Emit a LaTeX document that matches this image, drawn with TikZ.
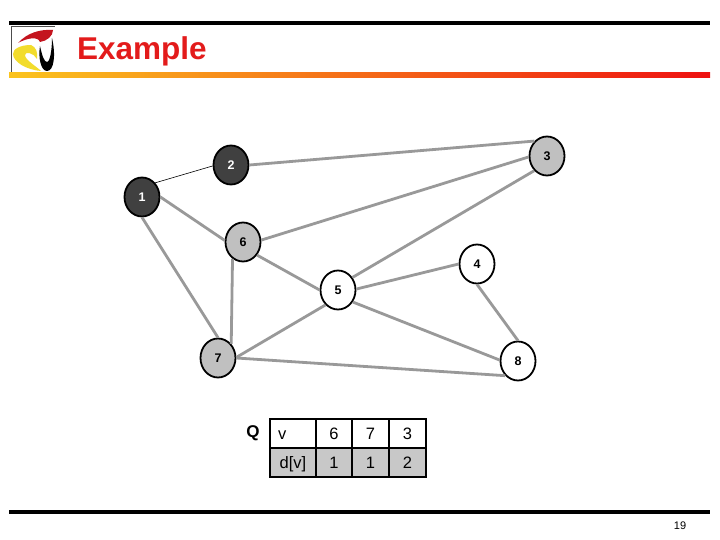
\documentclass[tikz,border=0pt]{standalone}
\usepackage{fontspec}
\setmainfont{Liberation Sans}
\definecolor{edgegray}{HTML}{999999}
\definecolor{dark}{HTML}{404040}
\definecolor{lite}{HTML}{C0C0C0}
\definecolor{cellgray}{HTML}{C8C8C8}
\definecolor{titlered}{HTML}{E31B1B}
\definecolor{barleft}{HTML}{FBC41E}
\definecolor{barright}{HTML}{EE1111}
\definecolor{logored}{HTML}{C4141E}
\definecolor{logoyellow}{HTML}{F2DC2C}
\usetikzlibrary{shapes.geometric}
\tikzset{
  vert/.style={ellipse,draw=black,line width=1.8pt,minimum width=35pt,minimum height=39pt,inner sep=0pt,font=\bfseries\fontsize{12.5}{14}\selectfont},
  vwhite/.style={vert,fill=white,text=black},
  vlite/.style={vert,fill=lite,text=black},
  vdark/.style={vert,fill=dark,text=white},
  edge/.style={draw=edgegray,line width=2.8pt},
  thinedge/.style={draw=black,line width=0.6pt},
  cell/.style={draw=black,line width=1.6pt,inner sep=0pt,minimum height=29pt,text height=12pt,text depth=0pt,font=\fontsize{16.5}{18}\selectfont,text=black},
  bar/.style={fill=black,draw=none}
}
\begin{document}
\begin{tikzpicture}[x=1pt,y=-1pt]
\useasboundingbox (0,0) rectangle (720,540);
\fill[white] (0,0) rectangle (720,540);
% logo
\draw[black!70,line width=0.5pt] (11.7,74) -- (11.7,26) -- (55,26);
\fill[logoyellow] (31,45) .. controls (20,45) and (13,49) .. (13,54) .. controls (13,62) and (27,70) .. (41,71) .. controls (36,66) and (25,60) .. (25,55) .. controls (25,51) and (34,53) .. (37,59) .. controls (38,52) and (36,47) .. (31,45) -- cycle;
\fill[logored] (18,43) .. controls (27,33) and (40,29) .. (53,30) .. controls (53,36) and (47,41) .. (40,42) .. controls (38,36) and (27,38) .. (18,43) -- cycle;
\fill[black] (40,46) .. controls (38,58) and (41,71) .. (47,71) .. controls (54,71) and (56,55) .. (52,38) .. controls (52,50) and (50,62) .. (47,62) .. controls (44,62) and (42,55) .. (40,46) -- cycle;
% bars
\fill[bar] (9,21) rectangle (710,25);
\shade[left color=barleft,right color=barright,draw=none] (9,73) rectangle (710,78);
\fill[bar] (9,510) rectangle (710,514);
\node[anchor=base west,text=titlered,font=\bfseries\fontsize{31.5}{34}\selectfont,inner sep=0pt] (title) at (77,60) {Example};
\node[font=\fontsize{11}{12}\selectfont] (pagenum) at (680,526) {19};
% vertices
\node[vdark]  (n1) at (142,197) {1};
\node[vdark]  (n2) at (231,165) {2};
\node[vlite]  (n3) at (547,156) {3};
\node[vwhite] (n4) at (477,264) {4};
\node[vwhite] (n5) at (338,290) {5};
\node[vlite]  (n6) at (243,242) {6};
\node[vlite]  (n7) at (218,358) {7};
\node[vwhite] (n8) at (518,361) {8};
% edges
\draw[thinedge] (n1.47) -- (n2.183);
\draw[edge] (n2.0) -- (n3.130);
\draw[edge] (n3.183) -- (n6.6);
\draw[edge] (n3.229) -- (n5.41);
\draw[edge] (n4.180) -- (n5.3);
\draw[edge] (n5.-39) -- (n8.177);
\draw[edge] (n7.0) -- (n8.229);
\draw[edge] (n5.230) -- (n7.2);
\draw[edge] (n6.-43) -- (n5.180);
\draw[edge] (n6.238) -- (n7.47);
\draw[edge] (n1.0) -- (n6.175);
\draw[edge] (n1.270) -- (n7.90);
\draw[edge] (n4.270) -- (n8.90);
% table
\node[font=\bfseries\fontsize{17}{18}\selectfont] (qlabel) at (253,433) {Q};
\node[cell,fill=white,minimum width=46pt,text width=30pt,align=left] (t00) at (293,433.5) {v};
\node[cell,fill=white,minimum width=36pt] (t01) at (334,433.5) {6};
\node[cell,fill=white,minimum width=37pt] (t02) at (370.5,433.5) {7};
\node[cell,fill=white,minimum width=37pt] (t03) at (407.5,433.5) {3};
\node[cell,fill=cellgray,minimum width=46pt] (t10) at (293,462.5) {d[v]};
\node[cell,fill=cellgray,minimum width=36pt] (t11) at (334,462.5) {1};
\node[cell,fill=cellgray,minimum width=37pt] (t12) at (370.5,462.5) {1};
\node[cell,fill=cellgray,minimum width=37pt] (t13) at (407.5,462.5) {2};
\end{tikzpicture}
\end{document}
